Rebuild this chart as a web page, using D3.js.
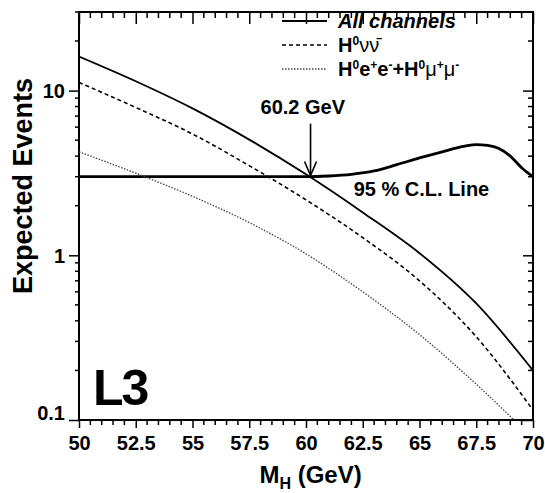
<!DOCTYPE html>
<html>
<head>
<meta charset="utf-8">
<script src="https://cdn.jsdelivr.net/npm/d3@7/dist/d3.min.js"></script>
<style>
  body { margin: 0; background: #fff; }
  text { font-family: "Liberation Sans", Arial, sans-serif; font-weight: bold; fill: #000; }
</style>
</head>
<body>
<div id="chart"></div>
<script>
// Data
const mass = [50, 52.5, 55, 57.5, 60, 62.5, 65, 67.5, 70];
const allChannels = [16.1, 11.4, 7.8, 5.04, 3.1, 1.82, 1.03, 0.51, 0.2];
const hNuNu = [11.2, 7.9, 5.45, 3.5, 2.17, 1.28, 0.7, 0.32, 0.115];
const hLepLep = [4.25, 3.15, 2.28, 1.58, 1.02, 0.6, 0.33, 0.165, 0.077];

const clMass = [50, 55, 60, 61, 62, 63, 64, 65, 66, 67, 67.5, 68, 68.5, 69, 69.5, 70];
const clLine = [3.0, 3.0, 3.0, 3.03, 3.1, 3.25, 3.55, 3.9, 4.25, 4.6, 4.7, 4.65, 4.45, 4.0, 3.4, 3.0];

const xTicks = [50, 52.5, 55, 57.5, 60, 62.5, 65, 67.5, 70];
const yTicks = [0.1, 1, 10];
const yTickLabels = ["0.1", "1", "10"];
const limitMass = 60.2;

// The svg
const margin = { top: 12, right: 12, bottom: 73, left: 79 };
const width = 545 - margin.left - margin.right;
const height = 493 - margin.top - margin.bottom;

const svg = d3.select("#chart")
    .append("svg")
    .attr("width", 545)
    .attr("height", 493)
    .append("g")
    .attr("transform", `translate(${margin.left},${margin.top})`);

const x = d3.scaleLinear().domain([50, 70]).range([0, width]);
const y = d3.scaleLog().domain([0.1, 30]).range([height, 0]);

// minor tick positions
const xMinor = d3.range(50, 70.01, 0.5).filter(v => !xTicks.includes(v));
const yMinor = [];
[0.1, 1, 10].forEach(d => { for (let k = 2; k <= 9; k++) if (d * k <= 30) yMinor.push(d * k); });

// bottom axis (ticks outside)
const bottom = svg.append("g").attr("transform", `translate(0,${height})`);
bottom.call(d3.axisBottom(x).tickValues(xTicks).tickSize(8).tickFormat(d3.format("")))
    .call(g => g.select(".domain").remove());
bottom.call(g => g.selectAll(".minor").data(xMinor).enter().append("line")
    .attr("class", "minor").attr("x1", d => x(d)).attr("x2", d => x(d))
    .attr("y1", 0).attr("y2", 5).attr("stroke", "#000").attr("stroke-width", 1.5));
bottom.selectAll(".tick line").attr("stroke-width", 1.5);
bottom.selectAll(".tick text").attr("dy", "0.95em").style("font-size", "20px");

// top axis (ticks inside)
const top_ = svg.append("g");
top_.call(d3.axisTop(x).tickValues(xTicks).tickSize(-12).tickFormat(""))
    .call(g => g.select(".domain").remove());
top_.selectAll(".tick line").attr("stroke-width", 1.5);
top_.selectAll(".minor").data(xMinor).enter().append("line")
    .attr("class", "minor").attr("x1", d => x(d)).attr("x2", d => x(d))
    .attr("y1", 0).attr("y2", 6).attr("stroke", "#000").attr("stroke-width", 1.5);

// left axis (ticks outside)
const left = svg.append("g");
left.call(d3.axisLeft(y).tickValues(yTicks).tickSize(10).tickFormat((d, i) => yTickLabels[i]))
    .call(g => g.select(".domain").remove());
left.selectAll(".tick line").attr("stroke-width", 1.5);
left.selectAll(".tick text").style("font-size", "20px").attr("x", -14)
    .attr("dy", d => d === 0.1 ? "-0.05em" : "0.35em");
left.selectAll(".minor").data(yMinor).enter().append("line")
    .attr("class", "minor").attr("y1", d => y(d)).attr("y2", d => y(d))
    .attr("x1", 0).attr("x2", -4).attr("stroke", "#000").attr("stroke-width", 1.5);

// right axis (ticks inside)
const right = svg.append("g").attr("transform", `translate(${width},0)`);
right.call(d3.axisRight(y).tickValues(yTicks).tickSize(-10).tickFormat(""))
    .call(g => g.select(".domain").remove());
right.selectAll(".tick line").attr("stroke-width", 1.5);
right.selectAll(".minor").data(yMinor).enter().append("line")
    .attr("class", "minor").attr("y1", d => y(d)).attr("y2", d => y(d))
    .attr("x1", 0).attr("x2", -5).attr("stroke", "#000").attr("stroke-width", 1.5);

// frame
svg.append("rect")
    .attr("width", width).attr("height", height)
    .attr("fill", "none").attr("stroke", "#000").attr("stroke-width", 2);

// curves
svg.append("clipPath").attr("id", "clip")
    .append("rect").attr("width", width).attr("height", height);

const line = d3.line()
    .x(d => x(d[0]))
    .y(d => y(d[1]))
    .curve(d3.curveMonotoneX);

const plot = svg.append("g").attr("clip-path", "url(#clip)");

plot.append("path")
    .datum(d3.zip(clMass, clLine))
    .attr("d", line)
    .attr("fill", "none").attr("stroke", "#000").attr("stroke-width", 2.8);

plot.append("path")
    .datum(d3.zip(mass, allChannels))
    .attr("d", line)
    .attr("fill", "none").attr("stroke", "#000").attr("stroke-width", 1.8);

plot.append("path")
    .datum(d3.zip(mass, hNuNu))
    .attr("d", line)
    .attr("fill", "none").attr("stroke", "#000").attr("stroke-width", 1.6)
    .attr("stroke-dasharray", "4,3");

plot.append("path")
    .datum(d3.zip(mass, hLepLep))
    .attr("d", line)
    .attr("fill", "none").attr("stroke", "#444").attr("stroke-width", 1.3)
    .attr("stroke-dasharray", "1.5,1.5");

// arrow at the limit
const ax = x(limitMass);
const ay1 = y(6.3), ay2 = y(3.05);
svg.append("line").attr("x1", ax).attr("x2", ax).attr("y1", ay1).attr("y2", ay2)
    .attr("stroke", "#000").attr("stroke-width", 1.6);
svg.append("path")
    .attr("d", `M${ax - 6},${ay2 - 14}L${ax},${ay2}L${ax + 6},${ay2 - 14}`)
    .attr("fill", "none").attr("stroke", "#000").attr("stroke-width", 1.6);

svg.append("text").attr("x", ax - 50).attr("y", ay1 - 10)
    .style("font-size", "20px").text("60.2 GeV");

svg.append("text").attr("x", x(62.1)).attr("y", y(2.3))
    .style("font-size", "20px").text("95 % C.L. Line");

// L3 logo
svg.append("text").attr("x", 14).attr("y", height - 15)
    .style("font-size", "50px").style("letter-spacing", "-2px").text("L3");

// legend
const legend = svg.append("g").attr("transform", "translate(203,0)");
const rows = [
    { y: 9, dash: null, color: "#000", w: 1.8 },
    { y: 33, dash: "4,3", color: "#000", w: 1.6 },
    { y: 57, dash: "1.5,1.5", color: "#444", w: 1.3 }
];
rows.forEach(r => {
    legend.append("line").attr("x1", 0).attr("x2", 45).attr("y1", r.y).attr("y2", r.y)
        .attr("stroke", r.color).attr("stroke-width", r.w)
        .attr("stroke-dasharray", r.dash);
});

legend.append("text").attr("x", 56).attr("y", rows[0].y + 7)
    .style("font-size", "20px").style("font-style", "italic").text("All channels");

function sup(t, s) {
    t.append("tspan").attr("dy", -7).style("font-size", "12px").text(s);
    return t;
}
function base(t, s) {
    t.append("tspan").attr("dy", 7).text(s);
    return t;
}

const t2 = legend.append("text").attr("x", 56).attr("y", rows[1].y + 7).style("font-size", "20px");
t2.append("tspan").text("H");
sup(t2, "0");
t2.append("tspan").attr("dy", 7).style("font-weight", "normal").text("νν\u0304");

const t3 = legend.append("text").attr("x", 56).attr("y", rows[2].y + 7).style("font-size", "20px");
t3.append("tspan").text("H");
sup(t3, "0");
base(t3, "e");
sup(t3, "+");
base(t3, "e");
sup(t3, "-");
base(t3, "+H");
sup(t3, "0");
t3.append("tspan").attr("dy", 7).style("font-weight", "normal").text("μ");
sup(t3, "+");
t3.append("tspan").attr("dy", 7).style("font-weight", "normal").text("μ");
sup(t3, "-");

// axis titles
svg.append("text")
    .attr("transform", `translate(${-47},${height / 2 - 30}) rotate(-90)`)
    .attr("text-anchor", "middle")
    .style("font-size", "27px")
    .text("Expected Events");

const xt = svg.append("text")
    .attr("x", x(60.2)).attr("y", height + 63)
    .attr("text-anchor", "middle")
    .style("font-size", "24px");
xt.append("tspan").text("M");
xt.append("tspan").attr("dy", 6).style("font-size", "16px").text("H");
xt.append("tspan").attr("dy", -6).text(" (GeV)");
</script>
</body>
</html>
